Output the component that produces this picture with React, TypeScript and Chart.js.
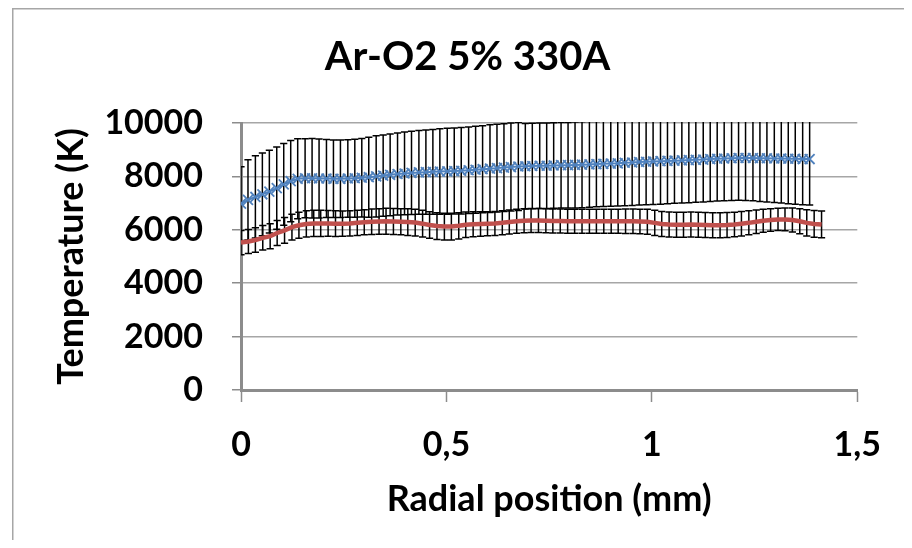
import React, { useEffect, useRef } from "react";
import { Chart, registerables } from "chart.js";

Chart.register(...registerables);

// ---- Data ----
const chartTitle = "Ar-O2 5% 330A";
const xAxisTitle = "Radial position (mm)";
const yAxisTitle = "Temperature (K)";

const xTickValues = [0, 0.5, 1, 1.5];
const xTickLabels = ["0", "0,5", "1", "1,5"];
const yTickValues = [0, 2000, 4000, 6000, 8000, 10000];
const yTickLabels = ["0", "2000", "4000", "6000", "8000", "10000"];

// Series 1 (blue, x markers)
const blueX = [
  0, 0.017, 0.035, 0.052, 0.069, 0.087, 0.104, 0.121, 0.138, 0.156,
  0.173, 0.19, 0.208, 0.225, 0.242, 0.26, 0.277, 0.294, 0.311, 0.329,
  0.346, 0.363, 0.381, 0.398, 0.415, 0.433, 0.45, 0.467, 0.484, 0.502,
  0.519, 0.536, 0.554, 0.571, 0.588, 0.606, 0.623, 0.64, 0.657, 0.675,
  0.692, 0.709, 0.727, 0.744, 0.761, 0.779, 0.796, 0.813, 0.83, 0.848,
  0.865, 0.882, 0.9, 0.917, 0.934, 0.952, 0.969, 0.986, 1.003, 1.021,
  1.038, 1.055, 1.073, 1.09, 1.107, 1.125, 1.142, 1.159, 1.176, 1.194,
  1.211, 1.228, 1.246, 1.263, 1.28, 1.298, 1.315, 1.332, 1.349, 1.367,
  1.384,
];
const blueT = [
  6980, 7120, 7230, 7330, 7430, 7560, 7700, 7820, 7910, 7930,
  7930, 7920, 7920, 7910, 7910, 7920, 7930, 7950, 7970, 8000,
  8030, 8060, 8090, 8110, 8130, 8150, 8160, 8170, 8180, 8190,
  8200, 8210, 8230, 8250, 8270, 8290, 8310, 8330, 8350, 8370,
  8380, 8390, 8400, 8400, 8410, 8420, 8420, 8430, 8440, 8450,
  8460, 8470, 8480, 8490, 8510, 8520, 8540, 8550, 8560, 8570,
  8580, 8590, 8600, 8610, 8620, 8630, 8650, 8660, 8670, 8680,
  8690, 8690, 8690, 8680, 8680, 8670, 8670, 8660, 8660, 8650,
  8650,
];
const blueErr = [
  1380, 1500, 1540, 1550, 1550, 1540, 1530, 1520, 1500, 1480,
  1490, 1480, 1460, 1450, 1450, 1450, 1460, 1470, 1500, 1520,
  1520, 1530, 1540, 1550, 1560, 1570, 1580, 1590, 1600, 1610,
  1610, 1620, 1620, 1630, 1630, 1640, 1640, 1640, 1650, 1650,
  1600, 1600, 1600, 1600, 1600, 1600, 1600, 1610, 1610, 1610,
  1600, 1600, 1600, 1600, 1610, 1610, 1610, 1610, 1610, 1610,
  1600, 1600, 1600, 1600, 1590, 1590, 1590, 1580, 1580, 1580,
  1580, 1590, 1600, 1620, 1640, 1650, 1670, 1680, 1700, 1710,
  1720,
];

// Series 2 (red line)
const redX = [
  0, 0.018, 0.035, 0.053, 0.071, 0.088, 0.106, 0.124, 0.141, 0.159,
  0.177, 0.194, 0.212, 0.23, 0.247, 0.265, 0.283, 0.3, 0.318, 0.336,
  0.353, 0.371, 0.389, 0.406, 0.424, 0.442, 0.459, 0.477, 0.495, 0.512,
  0.53, 0.547, 0.565, 0.583, 0.6, 0.618, 0.636, 0.653, 0.671, 0.689,
  0.706, 0.724, 0.742, 0.759, 0.777, 0.795, 0.812, 0.83, 0.848, 0.865,
  0.883, 0.901, 0.918, 0.936, 0.954, 0.971, 0.989, 1.007, 1.024, 1.042,
  1.06, 1.077, 1.095, 1.113, 1.13, 1.148, 1.166, 1.183, 1.201, 1.218,
  1.236, 1.254, 1.271, 1.289, 1.307, 1.324, 1.342, 1.36, 1.377, 1.395,
  1.413,
];
const redT = [
  5520, 5560, 5620, 5700, 5760, 5880, 5980, 6100, 6170, 6220,
  6240, 6240, 6240, 6230, 6230, 6240, 6260, 6280, 6300, 6310,
  6320, 6310, 6300, 6290, 6270, 6230, 6180, 6140, 6120, 6120,
  6150, 6190, 6210, 6220, 6230, 6240, 6260, 6290, 6320, 6340,
  6350, 6350, 6340, 6330, 6330, 6320, 6320, 6320, 6320, 6320,
  6320, 6320, 6320, 6320, 6320, 6310, 6300, 6260, 6220, 6200,
  6190, 6190, 6200, 6190, 6180, 6170, 6170, 6180, 6200, 6230,
  6260, 6300, 6340, 6370, 6390, 6390, 6370, 6320, 6260, 6220,
  6200,
];
const redErr = [
  450, 450, 460, 460, 470, 470, 480, 480, 490, 490,
  490, 490, 480, 480, 470, 470, 470, 470, 480, 480,
  490, 490, 490, 500, 500, 500, 500, 500, 500, 500,
  490, 480, 470, 460, 450, 450, 450, 450, 450, 450,
  450, 450, 450, 450, 450, 450, 450, 450, 450, 450,
  450, 450, 450, 460, 460, 460, 470, 470, 470, 470,
  470, 470, 470, 470, 470, 470, 470, 470, 460, 460,
  450, 440, 430, 420, 420, 430, 450, 470, 490, 500,
  500,
];

const FONT = "Lato, 'Open Sans', sans-serif";

const framePlugin = {
  id: "frame",
  beforeDraw(chart: any) {
    const { ctx, width, height } = chart;
    ctx.save();
    ctx.strokeStyle = "#a6a6a6";
    ctx.lineWidth = 1.5;
    ctx.beginPath();
    ctx.moveTo(4.75, height);
    ctx.lineTo(4.75, 0.75);
    ctx.lineTo(width, 0.75);
    ctx.stroke();
    ctx.restore();
  },
};

const errorBarPlugin = {
  id: "errorBars",
  beforeDatasetsDraw(chart: any, _args: any, opts: any) {
    const { ctx, chartArea } = chart;
    const yScale = chart.scales.y;
    const series: number[][] = opts.series || [];
    ctx.save();
    ctx.beginPath();
    ctx.rect(chartArea.left, chartArea.top - 1, chartArea.right - chartArea.left, chartArea.bottom - chartArea.top + 1);
    ctx.clip();
    ctx.strokeStyle = "#000000";
    ctx.lineWidth = 1.5;
    const half = 3.6;
    series.forEach((errs, di) => {
      const meta = chart.getDatasetMeta(di);
      const ds = chart.data.datasets[di];
      meta.data.forEach((el: any, j: number) => {
        const v = ds.data[j].y;
        const e = errs[j];
        const x = el.x;
        const yt = yScale.getPixelForValue(v + e);
        const yb = yScale.getPixelForValue(v - e);
        ctx.beginPath();
        ctx.moveTo(x, yt);
        ctx.lineTo(x, yb);
        ctx.moveTo(x - half, yt);
        ctx.lineTo(x + half, yt);
        ctx.moveTo(x - half, yb);
        ctx.lineTo(x + half, yb);
        ctx.stroke();
      });
    });
    ctx.restore();
  },
};

export default function App() {
  const ref = useRef<HTMLCanvasElement | null>(null);

  useEffect(() => {
    if (!ref.current) return;
    const chart = new Chart(ref.current, {
      type: "scatter",
      data: {
        datasets: [
          {
            label: "T1",
            data: blueX.map((x, i) => ({ x, y: blueT[i] })),
            showLine: true,
            borderColor: "#4f81bd",
            borderWidth: 2,
            pointStyle: "crossRot",
            pointRadius: 7,
            pointBorderColor: "#4f81bd",
            pointBorderWidth: 1.8,
            pointBackgroundColor: "#4f81bd",
          },
          {
            label: "T2",
            data: redX.map((x, i) => ({ x, y: redT[i] })),
            showLine: true,
            borderColor: "#c0504d",
            borderWidth: 4.5,
            pointRadius: 0,
          },
        ],
      },
      options: {
        responsive: false,
        animation: false,
        events: [],
        layout: { padding: { left: 61, right: 38, top: 0, bottom: 0 } },
        plugins: {
          legend: { display: false },
          tooltip: { enabled: false },
          title: {
            display: true,
            text: chartTitle,
            color: "#000",
            font: { family: FONT, size: 40, weight: "bold" },
            padding: { top: 25, bottom: 42 },
          },
          errorBars: { series: [blueErr, redErr] },
        } as any,
        scales: {
          x: {
            type: "linear",
            min: 0,
            max: 1.5,
            afterFit: (s: any) => {
              s.height = 150;
            },
            afterBuildTicks: (s: any) => {
              s.ticks = xTickValues.map((v) => ({ value: v }));
            },
            ticks: {
              color: "#000",
              font: { family: FONT, size: 34, weight: "bold" },
              padding: 23,
              maxRotation: 0,
              callback: (v: any) => {
                const i = xTickValues.findIndex((t) => Math.abs(t - Number(v)) < 1e-9);
                return i >= 0 ? xTickLabels[i] : "";
              },
            },
            grid: {
              drawOnChartArea: false,
              drawTicks: true,
              tickLength: 12,
              tickColor: "#8c8c8c",
              tickWidth: 1.5,
            },
            border: { color: "#8c8c8c", width: 3 },
            title: {
              display: true,
              text: xAxisTitle,
              color: "#000",
              font: { family: FONT, size: 36, weight: "bold" },
              padding: { top: 0, bottom: 19 },
            },
          },
          y: {
            type: "linear",
            min: 0,
            max: 10000,
            afterFit: (s: any) => {
              s.width = 172;
            },
            afterBuildTicks: (s: any) => {
              s.ticks = yTickValues.map((v) => ({ value: v }));
            },
            ticks: {
              color: "#000",
              font: { family: FONT, size: 34, weight: "bold" },
              padding: 29,
              callback: (v: any) => {
                const i = yTickValues.indexOf(Number(v));
                return i >= 0 ? yTickLabels[i] : "";
              },
            },
            grid: {
              color: "#a6a6a6",
              lineWidth: 1.5,
              drawTicks: true,
              tickLength: 9,
              tickColor: "#8c8c8c",
              tickWidth: 1.5,
            },
            border: { color: "#8c8c8c", width: 3 },
            title: {
              display: true,
              text: yAxisTitle,
              color: "#000",
              font: { family: FONT, size: 36, weight: "bold" },
              padding: { top: -19, bottom: 0 },
            },
          },
        },
      },
      plugins: [framePlugin, errorBarPlugin],
    } as any);
    return () => chart.destroy();
  }, []);

  return (
    <div style={{ width: 896, height: 532 }}>
      <canvas ref={ref} width={896} height={532} style={{ display: "block", width: 896, height: 532 }} />
    </div>
  );
}
